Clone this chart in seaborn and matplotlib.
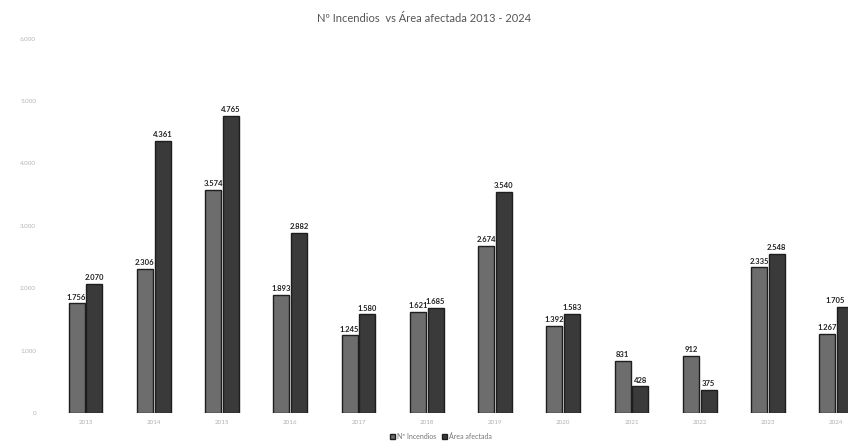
import pandas as pd
import seaborn as sns
import matplotlib.pyplot as plt

# data
years = ["2013", "2014", "2015", "2016", "2017", "2018",
         "2019", "2020", "2021", "2022", "2023", "2024"]
incendios = [1756, 2306, 3574, 1893, 1245, 1621, 2674, 1392, 831, 912, 2335, 1267]
area = [2070, 4361, 4765, 2882, 1580, 1685, 3540, 1583, 428, 375, 2548, 1705]
series_names = ["Nº Incendios", "Área afectada"]

df = pd.DataFrame({
    "year": years * 2,
    "value": incendios + area,
    "serie": [series_names[0]] * len(years) + [series_names[1]] * len(years),
})

sns.set_style("white")
plt.rcParams["font.family"] = ["Lato", "DejaVu Sans"]

fig = plt.figure(figsize=(8.48, 4.43), dpi=100)
ax = fig.add_axes([50 / 848, 30 / 443, 798 / 848, 374.4 / 443])

sns.barplot(
    data=df, x="year", y="value", hue="serie", order=years,
    hue_order=series_names, palette=["#6d6d6d", "#3a3a3a"],
    width=0.52, gap=0.1, edgecolor="#1e1e1e", linewidth=1.0,
    errorbar=None, ax=ax,
)


def fmt(v):
    return f"{int(v):,}".replace(",", ".")


for i, cont in enumerate(ax.containers):
    texts = ax.bar_label(cont, labels=[fmt(b.get_height()) for b in cont],
                         padding=2, fontsize=5.5, color="#222222",
                         fontweight="bold")
    if i == 0:
        for t in texts:
            t.set_zorder(0.9)
    else:
        # last label sits at the clipped right edge
        texts[-1].set_ha("right")

ax.set_xlim((50 - 85.5) / 68.25, (848 - 85.5) / 68.25)
ax.set_ylim(0, 6000)
ax.set_yticks(range(0, 6001, 1000))
ax.set_yticklabels([fmt(v) for v in range(0, 6001, 1000)])
ax.tick_params(axis="y", labelsize=4.5, colors="#b5b5b5", length=0, pad=10)
ax.tick_params(axis="x", labelsize=4.5, colors="#b0b0b0", length=0, pad=5)
ax.set_xlabel("")
ax.set_ylabel("")
sns.despine(ax=ax, left=True, bottom=True, top=True, right=True)

handles, labels = ax.get_legend_handles_labels()
ax.get_legend().remove()
fig.legend(handles, labels, loc="center", bbox_to_anchor=(0.52, 0.015),
           ncol=2, frameon=False, fontsize=5, labelcolor="#777777",
           handlelength=0.7, handleheight=0.7, handletextpad=0.3,
           columnspacing=0.8)

fig.text(0.5, 0.958, "Nº Incendios  vs Área afectada 2013 - 2024",
         ha="center", va="center", fontsize=8, color="#555555")

fig.savefig("out.png", dpi=100)
